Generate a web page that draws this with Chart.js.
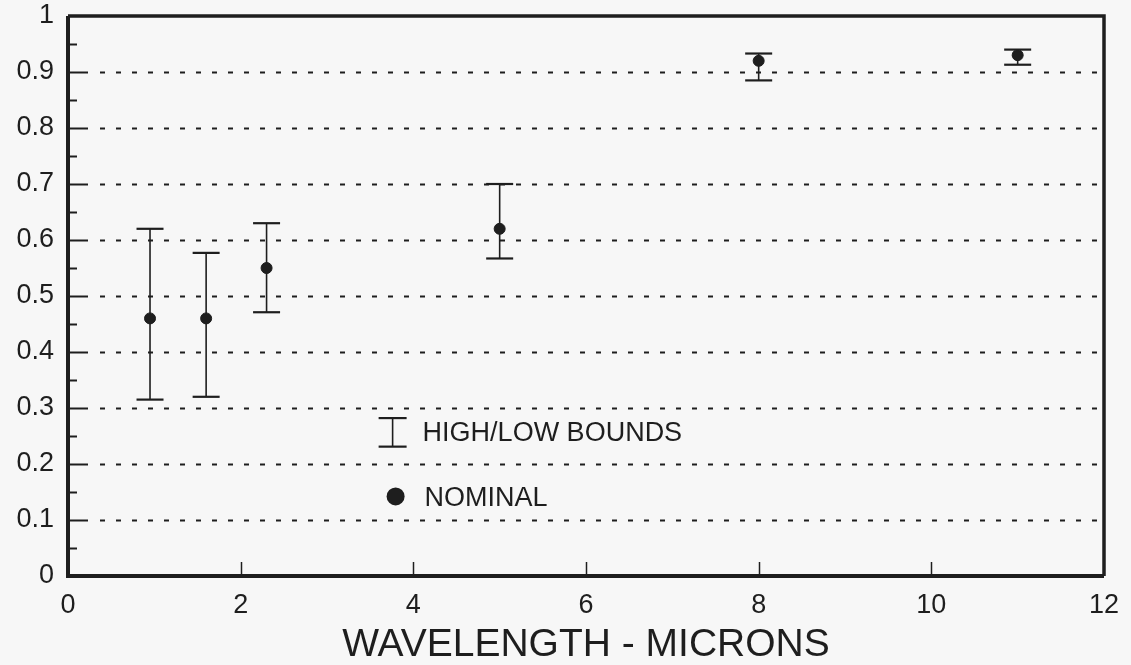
<!DOCTYPE html>
<html>
<head>
<meta charset="utf-8">
<script src="https://cdn.jsdelivr.net/npm/chart.js@4.4.1/dist/chart.umd.min.js"></script>
<style>
  html, body { margin: 0; padding: 0; background: #f7f7f7; }
  #wrap { width: 1131px; height: 665px; position: relative; }
</style>
</head>
<body>
<div id="wrap"><canvas id="c" width="1131" height="665"></canvas></div>
<script>
// ---- data ----
const wavelengths = [0.95, 1.6, 2.3, 5, 8, 11];
const nominal     = [0.46, 0.46, 0.55, 0.62, 0.92, 0.93];
const highBounds  = [0.62, 0.577, 0.63, 0.70, 0.933, 0.94];
const lowBounds   = [0.315, 0.32, 0.471, 0.567, 0.885, 0.913];
const xTickValues = [0, 2, 4, 6, 8, 10, 12];
const yTickValues = [0, 0.1, 0.2, 0.3, 0.4, 0.5, 0.6, 0.7, 0.8, 0.9, 1];
const xTitle = 'WAVELENGTH - MICRONS';
const legendBoundsLabel = 'HIGH/LOW BOUNDS';
const legendNominalLabel = 'NOMINAL';

const INK = '#1e1e1e';
const FONT = "'Liberation Sans', Arial, Helvetica, sans-serif";

const framePlugin = {
  id: 'frame',
  beforeDatasetsDraw(chart) {
    const { ctx, chartArea: a, scales: { x, y } } = chart;
    ctx.save();
    // dashed horizontal gridlines
    ctx.strokeStyle = INK;
    ctx.lineWidth = 2;
    ctx.setLineDash([5, 11]);
    yTickValues.forEach(v => {
      if (v <= 0 || v >= 1) return;
      const py = Math.round(y.getPixelForValue(v)) + 0.5;
      ctx.beginPath();
      ctx.moveTo(a.left + 32, py);
      ctx.lineTo(a.right, py);
      ctx.stroke();
    });
    ctx.setLineDash([]);
    // y ticks (major inward, minor inward)
    ctx.lineWidth = 2;
    yTickValues.forEach((v, i) => {
      const py = Math.round(y.getPixelForValue(v)) + 0.5;
      if (v > 0 && v < 1) {
        ctx.beginPath(); ctx.moveTo(a.left, py); ctx.lineTo(a.left + 20, py); ctx.stroke();
      }
      if (i < yTickValues.length - 1) {
        const mv = (v + yTickValues[i + 1]) / 2;
        const pm = Math.round(y.getPixelForValue(mv)) + 0.5;
        ctx.beginPath(); ctx.moveTo(a.left, pm); ctx.lineTo(a.left + 9, pm); ctx.stroke();
      }
    });
    // x ticks upward
    ctx.lineWidth = 1.5;
    xTickValues.forEach(v => {
      if (v <= 0 || v >= 12) return;
      const px = Math.round(x.getPixelForValue(v)) + 0.5;
      ctx.beginPath(); ctx.moveTo(px, a.bottom); ctx.lineTo(px, a.bottom - 14); ctx.stroke();
    });
    // frame
    ctx.lineWidth = 4;
    ctx.beginPath();
    ctx.moveTo(a.left, a.top); ctx.lineTo(a.left, a.bottom); ctx.lineTo(a.right, a.bottom);
    ctx.stroke();
    ctx.lineWidth = 3.5;
    ctx.beginPath();
    ctx.moveTo(a.left, a.top); ctx.lineTo(a.right, a.top); ctx.lineTo(a.right, a.bottom);
    ctx.stroke();

    // error bars
    ctx.lineWidth = 1.6;
    wavelengths.forEach((w, i) => {
      const px = x.getPixelForValue(w);
      const ph = y.getPixelForValue(highBounds[i]);
      const pl = y.getPixelForValue(lowBounds[i]);
      ctx.beginPath(); ctx.moveTo(px, ph); ctx.lineTo(px, pl); ctx.stroke();
    });
    ctx.lineWidth = 2.2;
    wavelengths.forEach((w, i) => {
      const px = x.getPixelForValue(w);
      [highBounds[i], lowBounds[i]].forEach(v => {
        const py = y.getPixelForValue(v);
        ctx.beginPath(); ctx.moveTo(px - 13.5, py); ctx.lineTo(px + 13.5, py); ctx.stroke();
      });
    });

    // legend
    const lx = x.getPixelForValue(3.76);
    const lyTop = y.getPixelForValue(0.282);
    const lyBot = y.getPixelForValue(0.231);
    ctx.lineWidth = 1.6;
    ctx.beginPath(); ctx.moveTo(lx, lyTop); ctx.lineTo(lx, lyBot); ctx.stroke();
    ctx.lineWidth = 2.2;
    [lyTop, lyBot].forEach(py => {
      ctx.beginPath(); ctx.moveTo(lx - 14, py); ctx.lineTo(lx + 14, py); ctx.stroke();
    });
    ctx.fillStyle = INK;
    ctx.font = '27px ' + FONT;
    ctx.textBaseline = 'middle';
    ctx.textAlign = 'left';
    ctx.fillText(legendBoundsLabel, lx + 30, (lyTop + lyBot) / 2 + 1);
    const ny = y.getPixelForValue(0.142);
    ctx.beginPath(); ctx.arc(lx + 3, ny, 9, 0, Math.PI * 2); ctx.fill();
    ctx.fillText(legendNominalLabel, lx + 32, ny + 2);
    ctx.restore();
  }
};

const bgPlugin = {
  id: 'bg',
  beforeDraw(chart) {
    const { ctx, width, height } = chart;
    ctx.save(); ctx.fillStyle = '#f7f7f7'; ctx.fillRect(0, 0, width, height); ctx.restore();
  }
};

new Chart(document.getElementById('c'), {
  type: 'scatter',
  data: {
    datasets: [{
      label: legendNominalLabel,
      data: wavelengths.map((w, i) => ({ x: w, y: nominal[i] })),
      backgroundColor: INK,
      borderColor: INK,
      pointRadius: 5.5,
      pointHoverRadius: 5.5
    }]
  },
  options: {
    responsive: false,
    animation: false,
    events: [],
    layout: { padding: { top: 16, right: 27, left: 0, bottom: 0 } },
    plugins: { legend: { display: false }, tooltip: { enabled: false } },
    scales: {
      x: {
        type: 'linear', min: 0, max: 12,
        afterBuildTicks(s) { s.ticks = xTickValues.map(v => ({ value: v })); },
        afterFit(s) { s.height = 89; s.paddingLeft = 0; s.paddingRight = 0; },
        grid: { display: false, drawTicks: false },
        border: { display: false },
        ticks: { padding: 13, color: INK, font: { family: FONT, size: 27 } },
        title: { display: true, text: xTitle, color: INK, padding: 0,
                 font: { family: FONT, size: 39, lineHeight: 1.0 } }
      },
      y: {
        type: 'linear', min: 0, max: 1,
        afterBuildTicks(s) { s.ticks = yTickValues.map(v => ({ value: v })); },
        afterFit(s) { s.width = 68; s.paddingTop = 0; s.paddingBottom = 0; },
        grid: { display: false, drawTicks: false },
        border: { display: false },
        ticks: { padding: 14, color: INK, font: { family: FONT, size: 27 },
                 callback: v => String(Math.round(v * 10) / 10) }
      }
    }
  },
  plugins: [bgPlugin, framePlugin]
});
</script>
</body>
</html>
